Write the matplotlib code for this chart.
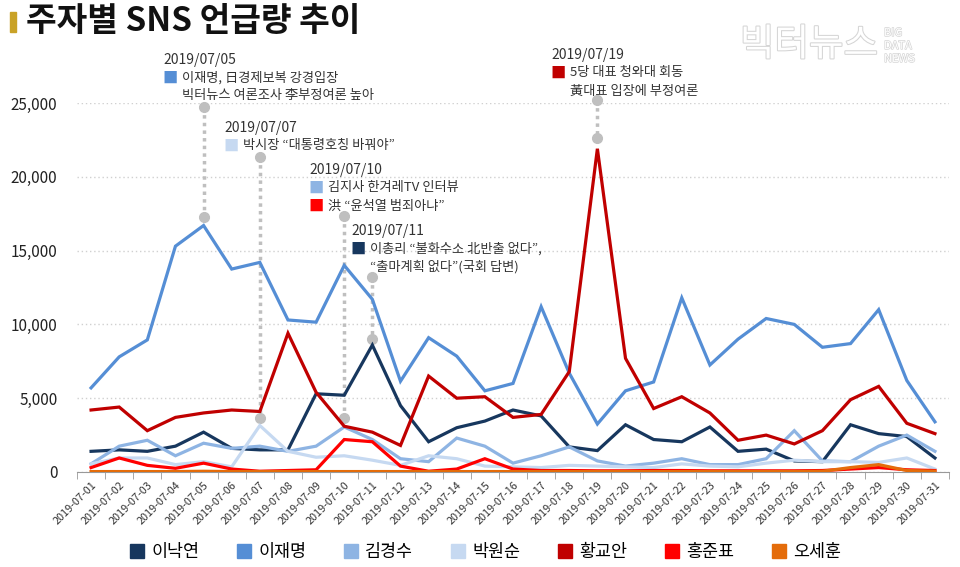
import matplotlib
matplotlib.use("Agg")
import matplotlib.pyplot as plt
import matplotlib.patheffects as pe
from matplotlib.lines import Line2D

plt.rcParams['font.family'] = ['Noto Sans CJK KR', 'DejaVu Sans']

dates = ["2019-07-%02d" % d for d in range(1, 32)]

lee_nakyon = [1400, 1500, 1400, 1750, 2700, 1600, 1500, 1500, 5300, 5200, 8600, 4500, 2050, 3000, 3450, 4200,
              3800, 1700, 1450, 3200, 2200, 2050, 3050, 1400, 1550, 750, 700, 3200, 2600, 2400, 950]
lee_jaemyung = [5700, 7800, 8950, 15300, 16700, 13750, 14200, 10300, 10150, 14000, 11700, 6150, 9100, 7850, 5500, 6000,
                11200, 6700, 3250, 5500, 6100, 11800, 7250, 9000, 10400, 10000, 8450, 8700, 11000, 6200, 3400]
kim_kyungsoo = [550, 1750, 2150, 1100, 1950, 1600, 1750, 1400, 1750, 3050, 2200, 900, 700, 2300, 1750, 600,
                1100, 1700, 750, 400, 600, 900, 500, 500, 900, 2800, 750, 700, 1750, 2500, 1400]
park_wonsoon = [550, 950, 950, 500, 700, 350, 3150, 1400, 1000, 1100, 800, 450, 1100, 900, 400, 350,
                300, 450, 400, 350, 300, 550, 400, 350, 600, 800, 700, 700, 650, 950, 200]
hwang_kyoahn = [4200, 4400, 2800, 3700, 4000, 4200, 4100, 9400, 5400, 3100, 2700, 1800, 6500, 5000, 5100, 3700,
                3900, 6800, 21900, 7700, 4300, 5100, 4000, 2150, 2500, 1900, 2800, 4900, 5800, 3300, 2600]
hong_joonpyo = [300, 950, 450, 250, 600, 200, 50, 100, 150, 2200, 2050, 400, 50, 200, 900, 200,
                100, 100, 80, 80, 100, 100, 80, 80, 80, 80, 100, 200, 300, 150, 100]
oh_sehoon = [30, 30, 30, 30, 50, 30, 30, 30, 30, 30, 30, 30, 30, 30, 30, 30,
             30, 30, 30, 30, 30, 30, 30, 30, 30, 30, 50, 300, 500, 100, 50]

names = ["이낙연", "이재명", "김경수", "박원순", "황교안", "홍준표", "오세훈"]
series = [lee_nakyon, lee_jaemyung, kim_kyungsoo, park_wonsoon, hwang_kyoahn, hong_joonpyo, oh_sehoon]
colors = ["#17375E", "#558ED5", "#8EB4E3", "#C6D9F1", "#C00000", "#FF0000", "#E46C0A"]

# events: date index, dotted line top/bottom value, date text, lines (colour idx, text), text pos in px
events = [
    (4, 24730, 17280, "2019/07/05", [(1, "이재명, 日경제보복 강경입장"), (None, "빅터뉴스 여론조사 李부정여론 높아")], (163, 60)),
    (6, 21340, 3660, "2019/07/07", [(3, "박시장 “대통령호칭 바꿔야”")], (224, 128)),
    (9, 17340, 3660, "2019/07/10", [(2, "김지사 한겨레TV 인터뷰"), (5, "洪 “윤석열 범죄아냐”")], (309, 170)),
    (10, 13210, 9010, "2019/07/11", [(0, "이총리 “불화수소 北반출 없다”,"), (None, "“출마계획 없다”(국회 답변)")], (351, 231)),
    (18, 25200, 22630, "2019/07/19", [(4, "5당 대표 청와대 회동"), (None, "黃대표 입장에 부정여론")], (551, 55)),
]

W, H = 960, 567
fig = plt.figure(figsize=(W / 100, H / 100), dpi=100)
ax = fig.add_axes([77 / W, 1 - 472 / H, (949 - 77) / W, 369 / H])

x = list(range(len(dates)))
for vals, name, c in zip(series, names, colors):
    ax.plot(x, vals, color=c, lw=2.3, label=name, solid_joinstyle='miter', zorder=3)

ax.set_xlim(-0.5, len(dates) - 0.5)
ax.set_ylim(0, 25000)
ax.set_yticks(range(0, 25001, 5000))
ax.set_yticklabels(["{:,}".format(v) for v in range(0, 25001, 5000)], fontsize=11, color="#222222")
ax.set_xticks(x)
ax.set_xticklabels(dates, rotation=45, ha='right', rotation_mode='anchor', fontsize=7.8, color="#333333")
ax.set_xticks([i + 0.5 for i in range(-1, len(dates))], minor=True)
ax.tick_params(axis='x', which='major', length=0, pad=6)
ax.tick_params(axis='x', which='minor', length=5, color="#999999")
ax.tick_params(axis='y', length=0, pad=14)
for s in ['top', 'right', 'left']:
    ax.spines[s].set_visible(False)
ax.spines['bottom'].set_color("#999999")
ax.grid(axis='y', color="#D0D0D0", ls=(0, (1, 2)), lw=1)
ax.set_axisbelow(True)

# annotations
for idx, top, bot, date, lines, (tx, ty) in events:
    ax.plot([idx, idx], [top, bot], color="#BFBFBF", ls=(0, (1, 1.2)), lw=2.5, clip_on=False, zorder=2)
    ax.plot([idx, idx], [top, bot], 'o', color="#BFBFBF", ms=7, clip_on=False, zorder=2)
    fig.text(tx / W, 1 - ty / H, date, fontsize=10, va='center', color="#333333")
    for k, (ci, txt) in enumerate(lines):
        yy = ty + 18 + k * 18
        if ci is not None:
            fig.text((tx - 1) / W, 1 - yy / H, "■", fontsize=11, va='center', color=colors[ci])
        fig.text((tx + 19) / W, 1 - yy / H, txt, fontsize=9.5, va='center', color="#333333")

# title
fig.patches.append(plt.Rectangle((10 / W, 1 - 32 / H), 6 / W, 20 / H, color="#C9A227", transform=fig.transFigure))
fig.text(26 / W, 1 - 21 / H, "주자별 SNS 언급량 추이", fontsize=24, fontweight='bold', va='center', color="#111111")

# watermark
fig.text(740 / W, 1 - 45 / H, "빅터뉴스", fontsize=27, va='center', color="white",
         path_effects=[pe.withStroke(linewidth=1.5, foreground="#D5D5D5")])
for k, w in enumerate(["BIG", "DATA", "NEWS"]):
    fig.text(884 / W, 1 - (33 + k * 13) / H, w, fontsize=8, va='center', color="white",
             path_effects=[pe.withStroke(linewidth=1, foreground="#D5D5D5")])

handles = [Line2D([], [], marker='s', ls='none', color=c, ms=10) for c in colors]
fig.legend(handles, names, loc='center', bbox_to_anchor=(0.506, 1 - 552 / H), ncol=7, frameon=False,
           fontsize=12.5, handlelength=0.8, handletextpad=0.4, columnspacing=2.2)

fig.savefig("out.png", dpi=100)
